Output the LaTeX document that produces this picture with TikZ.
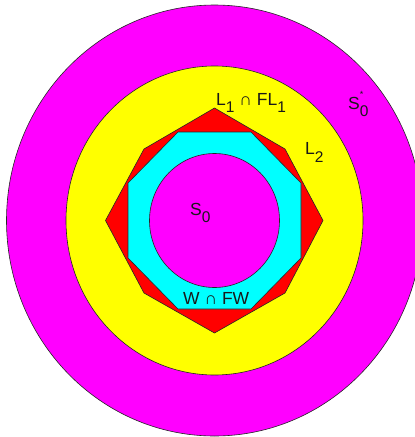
\documentclass[tikz,border=0pt]{standalone}
\usepackage{fontspec}
\setmainfont{Liberation Sans}
\newcommand{\lsub}[1]{\raisebox{-7.5pt}{\fontsize{15.5}{15.5}\selectfont #1}}
\newcommand{\lsup}[1]{\raisebox{12pt}{\fontsize{9}{9}\selectfont #1}}
\definecolor{mag}{HTML}{FF00FF}
\definecolor{yel}{HTML}{FFFF00}
\definecolor{rd}{HTML}{FF0000}
\definecolor{cy}{HTML}{00FFFF}
\begin{document}
\begin{tikzpicture}[x=1pt,y=-1pt,
  region/.style={draw=black!85, line width=0.6pt, line join=miter},
  lbl/.style={font=\fontsize{17.5}{17.5}\selectfont, inner sep=0pt, anchor=base west, text=black!90}]
\useasboundingbox (0,0) rectangle (415,437);
\fill[white] (0,0) rectangle (415,437);
\clip (0,0) rectangle (415,437);
\coordinate (c) at (214.5,220.5);
\draw[region, fill=mag] (c) ellipse [x radius=208, y radius=215.5];
\draw[region, fill=yel] (c) ellipse [x radius=148.5, y radius=154.5];
\draw[region, fill=rd] (214.5,108) -- (285,149) -- (323,220.5) -- (285,293) -- (214.5,333) -- (144,293) -- (105.5,220.5) -- (144,149) -- cycle;
\draw[region, fill=cy] (178,132) -- (251,132) -- (301,183) -- (301,258) -- (251,309) -- (178,309) -- (128,258) -- (128,183) -- cycle;
\draw[region, fill=mag] (c) ellipse [x radius=65, y radius=67];
\node[lbl] (s0) at (190,215) {S\lsub{0}};
\node[lbl] (l1) at (216,105) {L\lsub{1} ∩ FL\lsub{1}};
\node[lbl] (w) at (183,304) {W ∩ FW};
\node[lbl] (l2) at (305,154.5) {L\lsub{2}};
\node[lbl] (s0s) at (348,109) {S\rlap{\lsup{*}}\lsub{0}};
\end{tikzpicture}
\end{document}
